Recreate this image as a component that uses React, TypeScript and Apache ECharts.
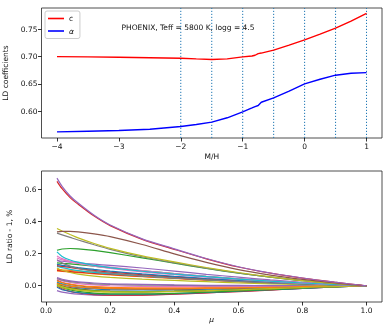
import React, { useEffect, useRef } from "react";
import * as echarts from "echarts";

// ---- top panel data ----
const mhGrid = [-4, -3.5, -3, -2.5, -2, -1.75, -1.5, -1.25, -1, -0.85, -0.8, -0.75, -0.7, -0.5, -0.25, 0, 0.25, 0.5, 0.75, 1];
const cCoef = [0.7, 0.6995, 0.6988, 0.698, 0.697, 0.6958, 0.6948, 0.6958, 0.6995, 0.7012, 0.7025, 0.7055, 0.7065, 0.712, 0.721, 0.7305, 0.741, 0.752, 0.765, 0.779];
const alphaCoef = [0.5622, 0.5634, 0.5646, 0.567, 0.572, 0.5756, 0.58, 0.588, 0.5988, 0.606, 0.6085, 0.6105, 0.6165, 0.6244, 0.637, 0.65, 0.6585, 0.666, 0.6695, 0.6707];
const vLines = [-2, -1.5, -1, -0.5, 0, 0.5, 1];
const topXTicks = [-4, -3, -2, -1, 0, 1];
const topYTicks = [0.6, 0.65, 0.7, 0.75];
const titleText = "PHOENIX, Teff = 5800 K, logg = 4.5";

// ---- bottom panel data ----
const muGrid = [0.034, 0.05, 0.075, 0.1, 0.15, 0.2, 0.3, 0.4, 0.5, 0.6, 0.7, 0.8, 0.9, 1.0];
const botXTicks = [0, 0.2, 0.4, 0.6, 0.8, 1.0];
const botYTicks = [0, 0.2, 0.4, 0.6];

const hiRed = [0.648, 0.602, 0.547, 0.506, 0.432, 0.373, 0.288, 0.226, 0.167, 0.116, 0.078, 0.047, 0.022, 0];
const hiPurple = [0.668, 0.617, 0.557, 0.513, 0.437, 0.377, 0.291, 0.229, 0.169, 0.118, 0.079, 0.048, 0.022, 0];
const midBrown = [0.334, 0.337, 0.337, 0.334, 0.322, 0.305, 0.256, 0.198, 0.145, 0.1, 0.066, 0.039, 0.017, 0];
const midOlive = [0.355, 0.34, 0.318, 0.297, 0.262, 0.232, 0.185, 0.148, 0.113, 0.082, 0.055, 0.032, 0.014, 0];
const midGray = [0.326, 0.316, 0.3, 0.284, 0.254, 0.226, 0.18, 0.143, 0.109, 0.079, 0.053, 0.031, 0.013, 0];
const midGreen = [0.22, 0.228, 0.231, 0.229, 0.219, 0.205, 0.173, 0.14, 0.107, 0.078, 0.053, 0.031, 0.014, 0];
const midCyan = [0.21, 0.182, 0.16, 0.146, 0.126, 0.112, 0.09, 0.072, 0.056, 0.041, 0.028, 0.017, 0.008, 0];
const lowPink1 = [0.185, 0.168, 0.152, 0.142, 0.127, 0.115, 0.094, 0.076, 0.058, 0.043, 0.03, 0.018, 0.008, 0];
const lowPink2 = [0.172, 0.16, 0.148, 0.138, 0.121, 0.107, 0.086, 0.069, 0.053, 0.039, 0.027, 0.016, 0.007, 0];
const lowPurple = [0.156, 0.152, 0.147, 0.142, 0.134, 0.126, 0.11, 0.091, 0.071, 0.053, 0.036, 0.021, 0.009, 0];
const lowGray = [0.162, 0.142, 0.122, 0.107, 0.09, 0.078, 0.061, 0.048, 0.037, 0.027, 0.018, 0.011, 0.005, 0];
const lowGreen = [0.142, 0.139, 0.135, 0.131, 0.121, 0.111, 0.093, 0.075, 0.058, 0.043, 0.03, 0.018, 0.008, 0];
const lowBlue = [0.132, 0.126, 0.119, 0.112, 0.101, 0.091, 0.073, 0.058, 0.045, 0.033, 0.022, 0.013, 0.006, 0];
const lowRed = [0.125, 0.12, 0.113, 0.106, 0.095, 0.085, 0.069, 0.055, 0.042, 0.031, 0.021, 0.013, 0.006, 0];
const lowCyan = [0.12, 0.112, 0.102, 0.094, 0.083, 0.075, 0.061, 0.049, 0.038, 0.028, 0.019, 0.011, 0.005, 0];
const lowOlive = [0.11, 0.096, 0.082, 0.072, 0.06, 0.052, 0.041, 0.033, 0.025, 0.018, 0.012, 0.007, 0.003, 0];
const lowOrange1 = [0.102, 0.099, 0.095, 0.091, 0.083, 0.076, 0.063, 0.051, 0.04, 0.03, 0.02, 0.012, 0.005, 0];
const lowOrange2 = [0.092, 0.089, 0.085, 0.081, 0.074, 0.067, 0.056, 0.045, 0.035, 0.026, 0.017, 0.01, 0.005, 0];
const lowRed2 = [0.095, 0.092, 0.088, 0.084, 0.077, 0.07, 0.058, 0.047, 0.036, 0.027, 0.018, 0.011, 0.005, 0];
const zPurple = [-0.03, -0.04, -0.048, -0.053, -0.058, -0.06, -0.058, -0.052, -0.044, -0.035, -0.026, -0.017, -0.008, 0];
const zRed = [0.0, -0.02, -0.035, -0.045, -0.055, -0.058, -0.058, -0.053, -0.045, -0.036, -0.027, -0.017, -0.008, 0];
const zBlue = [-0.01, -0.025, -0.036, -0.043, -0.05, -0.053, -0.053, -0.049, -0.042, -0.034, -0.025, -0.016, -0.007, 0];
const zGreen = [0.005, -0.012, -0.026, -0.035, -0.046, -0.05, -0.051, -0.047, -0.04, -0.032, -0.024, -0.015, -0.007, 0];
const zOlive = [0.0, -0.01, -0.02, -0.028, -0.036, -0.04, -0.04, -0.037, -0.032, -0.026, -0.019, -0.012, -0.006, 0];
const zRed2 = [0.015, 0.0, -0.012, -0.02, -0.03, -0.034, -0.036, -0.034, -0.03, -0.024, -0.018, -0.011, -0.005, 0];
const zGreen2 = [0.01, -0.004, -0.016, -0.023, -0.031, -0.035, -0.036, -0.034, -0.03, -0.024, -0.018, -0.011, -0.005, 0];
const zCyan = [0.025, 0.012, 0.0, -0.008, -0.016, -0.02, -0.022, -0.021, -0.018, -0.015, -0.011, -0.007, -0.003, 0];
const zBlue2 = [0.02, 0.008, -0.004, -0.012, -0.02, -0.024, -0.026, -0.025, -0.022, -0.018, -0.013, -0.008, -0.004, 0];
const zBrown = [0.035, 0.02, 0.008, 0.0, -0.01, -0.015, -0.02, -0.02, -0.018, -0.015, -0.011, -0.007, -0.003, 0];
const zOrange = [0.03, 0.02, 0.01, 0.003, -0.006, -0.01, -0.013, -0.013, -0.012, -0.01, -0.007, -0.005, -0.002, 0];
const zPink = [0.04, 0.03, 0.02, 0.013, 0.005, 0.0, -0.004, -0.006, -0.006, -0.005, -0.004, -0.002, -0.001, 0];
const zGray = [0.045, 0.035, 0.026, 0.02, 0.012, 0.008, 0.004, 0.002, 0.001, 0.0, 0.0, 0.0, 0.0, 0];
const zPurple2 = [0.05, 0.04, 0.03, 0.024, 0.017, 0.012, 0.008, 0.005, 0.003, 0.002, 0.001, 0.0, 0.0, 0];
const zOrange2 = [0.015, 0.006, -0.002, -0.008, -0.015, -0.018, -0.02, -0.019, -0.017, -0.014, -0.01, -0.006, -0.003, 0];
const zOlive2 = [0.008, -0.006, -0.018, -0.026, -0.034, -0.037, -0.038, -0.035, -0.031, -0.025, -0.018, -0.011, -0.005, 0];

// tab10 palette
const C = {
  blue: "#1f77b4", orange: "#ff7f0e", green: "#2ca02c", red: "#d62728", purple: "#9467bd",
  brown: "#8c564b", pink: "#e377c2", gray: "#7f7f7f", olive: "#bcbd22", cyan: "#17becf",
};

const curves: [number[], string][] = [
  [zPurple, C.purple], [zRed, C.red], [zBlue, C.blue], [zGreen, C.green], [zOlive, C.olive],
  [zRed2, C.red], [zGreen2, C.green], [zCyan, C.cyan], [zBlue2, C.blue], [zBrown, C.brown],
  [zOrange, C.orange], [zPink, C.pink], [zGray, C.gray], [zPurple2, C.purple], [zOrange2, C.orange],
  [zOlive2, C.olive],
  [lowOrange2, C.orange], [lowRed2, C.red], [lowOrange1, C.orange], [lowOlive, C.olive], [lowCyan, C.cyan],
  [lowRed, C.red], [lowBlue, C.blue], [lowGreen, C.green], [lowGray, C.gray], [lowPurple, C.purple],
  [lowPink2, C.pink], [lowPink1, C.pink],
  [midCyan, C.cyan], [midGreen, C.green], [midGray, C.gray], [midOlive, C.olive], [midBrown, C.brown],
  [hiRed, C.red], [hiPurple, C.purple],
];

const FONT = "DejaVu Sans";
const minus = (v: number, d: number) => (v < 0 ? "\u2212" + Math.abs(v).toFixed(d) : v.toFixed(d));

const TOP_Y = [0.551, 0.789];

export default function App() {
  const ref = useRef<HTMLDivElement>(null);
  useEffect(() => {
    if (!ref.current) return;
    const chart = echarts.init(ref.current, null, { renderer: "svg" });
    const axisCommon = {
      type: "value" as const,
      axisLine: { show: false, onZero: false },
      splitLine: { show: false },
      axisTick: { show: true, length: 3.5, lineStyle: { color: "#000", width: 0.8 } },
    };
    const labelStyle = { fontFamily: FONT, fontSize: 7.5, color: "#111" };
    const nameStyle = { fontFamily: FONT, fontSize: 7.5, color: "#111" };

    const bottomSeries = curves.map(([arr, color]) => ({
      type: "line",
      xAxisIndex: 1,
      yAxisIndex: 1,
      data: muGrid.map((m, i) => [m, arr[i]]),
      showSymbol: false,
      smooth: 0.3,
      lineStyle: { color, width: 1.2 },
      itemStyle: { color },
      silent: true,
    }));

    const vLineSeries = vLines.map((x) => ({
      type: "line",
      xAxisIndex: 0,
      yAxisIndex: 0,
      data: [[x, TOP_Y[0]], [x, TOP_Y[1]]],
      showSymbol: false,
      silent: true,
      lineStyle: { color: "#1f77b4", type: [1.2, 1.8], width: 1 },
      z: 1,
    }));

    chart.setOption({
      animation: false,
      grid: [
        { left: 41.5, right: 8, top: 8, height: 130, show: true, borderColor: "#222", borderWidth: 0.8, backgroundColor: "transparent", outerBoundsMode: "none", containLabel: false },
        { left: 41.5, right: 8, top: 171, height: 131, show: true, borderColor: "#222", borderWidth: 0.8, backgroundColor: "transparent", outerBoundsMode: "none", containLabel: false },
      ],
      xAxis: [
        {
          ...axisCommon, gridIndex: 0, min: -4.25, max: 1.25,
          axisTick: { ...axisCommon.axisTick, customValues: topXTicks },
          axisLabel: { ...labelStyle, margin: 4, customValues: topXTicks, formatter: (v: number) => minus(v, 0) },
          name: "M/H", nameLocation: "middle", nameGap: 14, nameTextStyle: nameStyle,
        },
        {
          ...axisCommon, gridIndex: 1, min: -0.0143, max: 1.0483,
          axisTick: { ...axisCommon.axisTick, customValues: botXTicks },
          axisLabel: { ...labelStyle, margin: 4, customValues: botXTicks, formatter: (v: number) => v.toFixed(1) },
          name: "\u03bc", nameLocation: "middle", nameGap: 13, nameTextStyle: { ...nameStyle, fontStyle: "italic" },
        },
      ],
      yAxis: [
        {
          ...axisCommon, gridIndex: 0, min: TOP_Y[0], max: TOP_Y[1],
          axisTick: { ...axisCommon.axisTick, customValues: topYTicks },
          axisLabel: { ...labelStyle, margin: 4, customValues: topYTicks, formatter: (v: number) => v.toFixed(2) },
          name: "LD coefficients", nameLocation: "middle", nameGap: 26, nameTextStyle: nameStyle,
        },
        {
          ...axisCommon, gridIndex: 1, min: -0.101, max: 0.712,
          axisTick: { ...axisCommon.axisTick, customValues: botYTicks },
          axisLabel: { ...labelStyle, margin: 5, customValues: botYTicks, formatter: (v: number) => v.toFixed(1) },
          name: "LD ratio - 1, %", nameLocation: "middle", nameGap: 22, nameTextStyle: nameStyle,
        },
      ],
      legend: {
        data: ["c", "\u03b1"],
        orient: "vertical",
        left: 45,
        top: 11,
        icon: "rect",
        itemWidth: 16,
        itemHeight: 1.6,
        itemGap: 3.5,
        padding: [3, 6, 3, 3],
        borderColor: "#ccc",
        borderWidth: 1,
        borderRadius: 2,
        backgroundColor: "#fff",
        textStyle: { fontFamily: FONT, fontSize: 7.5, color: "#111", lineHeight: 9, rich: { i: { fontStyle: "italic", fontFamily: FONT, fontSize: 7.5 } } },
        formatter: (n: string) => (n === "\u03b1" ? "{i|\u03b1}" : n),
        selectedMode: false,
      },
      graphic: [
        {
          type: "text", x: 188, y: 27,
          style: { text: titleText, align: "center", verticalAlign: "middle", fontFamily: FONT, fontSize: 7.5, fill: "#111" },
        },
      ],
      series: [
        ...vLineSeries,
        {
          name: "c", type: "line", xAxisIndex: 0, yAxisIndex: 0,
          data: mhGrid.map((m, i) => [m, cCoef[i]]),
          showSymbol: false, lineStyle: { color: "#ff0000", width: 1.4 }, itemStyle: { color: "#ff0000" }, z: 3,
        },
        {
          name: "\u03b1", type: "line", xAxisIndex: 0, yAxisIndex: 0,
          data: mhGrid.map((m, i) => [m, alphaCoef[i]]),
          showSymbol: false, lineStyle: { color: "#0000ff", width: 1.4 }, itemStyle: { color: "#0000ff" }, z: 3,
        },
        ...bottomSeries,
      ],
    });
    return () => chart.dispose();
  }, []);
  return <div ref={ref} style={{ position: "fixed", left: 0, top: 0, width: 390, height: 335 }} />;
}
